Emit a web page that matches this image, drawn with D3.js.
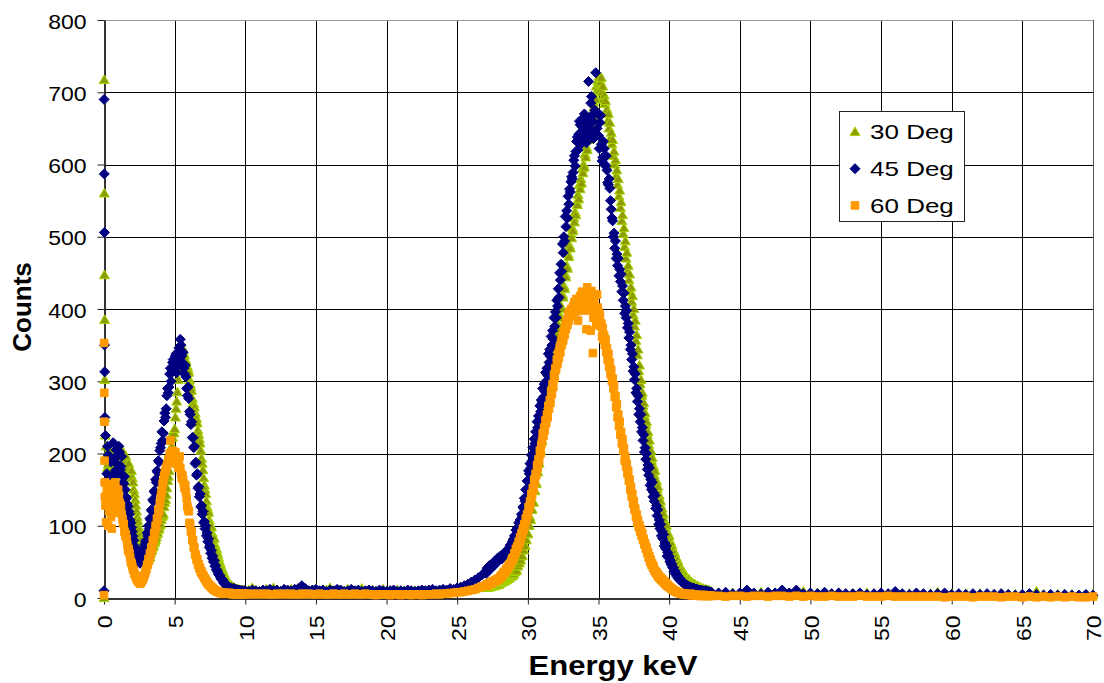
<!DOCTYPE html>
<html>
<head>
<meta charset="utf-8">
<script src="https://cdn.jsdelivr.net/npm/d3@7"></script>
<style>
  body { margin: 0; background: #fff; }
  text { font-family: "Liberation Sans", Arial, sans-serif; }
</style>
</head>
<body>
<svg id="chart" width="1104" height="683"></svg>
<script>
// series names, in the order Excel drew them
var seriesNames = ["30 Deg", "45 Deg", "60 Deg"];

var xTicks = [0, 5, 10, 15, 20, 25, 30, 35, 40, 45, 50, 55, 60, 65, 70];
var yTicks = [0, 100, 200, 300, 400, 500, 600, 700, 800];

// energy grid (keV): first channels, then four evenly spaced blocks
var spikeKeV = [0, 0.01, 0.02, 0.03, 0.04, 0.05, 0.06];
var lowStart = 0.1,  lowStep = 0.05;   // 0.10 .. 9.95
var midStart = 10,   midStep = 0.25;   // 10 .. 26.75
var peakStart = 27,  peakStep = 0.05;  // 27.00 .. 42.95
var tailStart = 43,  tailStep = 0.5;   // 43 .. 70

// ---- 30 Deg counts
var spike30 = [0, 717, 560, 447, 385, 302, 249];
var low30 = [
  225, 210, 198, 180, 185, 200, 205, 182, 178, 196, 195, 176, 182, 198, 200, 184, 188, 195,
  192, 180, 185, 200, 198, 186, 190, 202, 195, 184, 188, 196, 182, 178, 178, 186, 174, 168, 170, 176,
  166, 160, 150, 144, 136, 128, 120, 112, 106, 98, 93, 86, 80, 74, 68, 62, 58, 55, 53, 50,
  52, 50, 55, 58, 58, 56, 62, 65, 66, 70, 72, 76, 78, 80, 84, 88, 90, 94, 96, 100,
  102, 108, 112, 114, 116, 126, 132, 136, 143, 152, 162, 168, 176, 188, 198, 204, 210, 222, 230, 228,
  234, 250, 262, 272, 285, 302, 318, 330, 340, 345, 348, 336, 342, 338, 336, 330, 328, 322, 320, 316,
  312, 302, 296, 292, 287, 276, 270, 268, 264, 256, 250, 248, 242, 232, 226, 220, 214, 204, 193, 186,
  177, 166, 156, 150, 144, 134, 126, 122, 118, 108, 103, 100, 98, 90, 86, 84, 82, 74, 70, 68,
  64, 60, 56, 52, 49, 46, 43, 40, 38, 35, 33, 30, 28, 26, 24, 23, 21, 20, 19, 18,
  17, 16, 15, 15, 14, 13, 13, 12, 12, 12, 12, 11, 11, 11, 11, 10, 10, 10, 10, 10
];
var mid30 = [
  9, 11, 14, 10, 9, 10, 12, 9,
  14, 10, 9, 11, 10, 12, 9, 10,
  15, 11, 9, 10, 13, 9, 10, 11,
  14, 9, 10, 11, 9, 12, 10, 9,
  10, 13, 9, 10, 11, 9, 10, 12,
  9, 10, 8, 11, 9, 10, 8, 9,
  10, 9, 8, 10, 9, 8, 9, 10,
  9, 8, 9, 10, 9, 10, 11, 11,
  12, 13, 14, 15
];
var peak30 = [
  15, 14, 16, 15, 14, 16, 17, 15, 16, 18, 17, 16, 18, 19, 17, 18, 19, 20, 19, 18,
  20, 21, 21, 22, 22, 23, 23, 24, 24, 25, 25, 26, 27, 27, 28, 29, 30, 30, 31, 32,
  33, 36, 36, 40, 38, 44, 44, 50, 48, 56, 52, 60, 58, 68, 66, 74, 72, 82, 80, 88,
  89, 100, 100, 112, 108, 124, 122, 134, 132, 150, 148, 160, 158, 176, 174, 188, 186, 204, 204, 216,
  218, 236, 232, 250, 246, 264, 258, 274, 270, 292, 286, 300, 296, 318, 312, 326, 322, 342, 336, 350,
  348, 364, 362, 378, 372, 392, 388, 404, 400, 420, 416, 432, 428, 448, 444, 460, 456, 476, 472, 488,
  484, 504, 498, 512, 508, 526, 520, 534, 530, 548, 544, 558, 552, 572, 566, 580, 574, 594, 588, 600,
  596, 614, 610, 624, 620, 640, 634, 650, 644, 664, 658, 672, 666, 686, 680, 694, 690, 708, 702, 716,
  712, 722, 704, 714, 720, 700, 708, 690, 696, 684, 688, 670, 676, 660, 670, 650, 658, 636, 644, 628,
  634, 612, 618, 600, 606, 584, 592, 572, 580, 556, 564, 540, 548, 522, 530, 504, 512, 486, 494, 470,
  478, 452, 460, 440, 448, 424, 430, 410, 418, 392, 400, 376, 384, 356, 364, 336, 344, 314, 322, 296,
  302, 280, 284, 266, 270, 252, 256, 240, 244, 226, 230, 212, 218, 200, 204, 190, 194, 178, 182, 170,
  176, 160, 162, 150, 154, 140, 142, 130, 134, 120, 124, 112, 116, 104, 106, 96, 100, 88, 90, 82,
  86, 78, 78, 72, 73, 66, 66, 60, 62, 55, 56, 50, 52, 46, 46, 42, 43, 38, 38, 34,
  36, 33, 31, 31, 30, 28, 26, 26, 26, 24, 22, 22, 22, 20, 19, 19, 19, 17, 16, 16,
  17, 15, 14, 14, 15, 13, 12, 12, 13, 12, 11, 11, 12, 10, 10, 10, 11, 10, 9, 9
];
var tail30 = [
  8, 7, 6, 7, 6, 7, 6, 8, 6, 7,
  6, 7, 6, 9, 6, 7, 6, 6, 7, 6,
  6, 5, 7, 6, 5, 6, 7, 5, 6, 6,
  5, 6, 8, 5, 6, 5, 6, 5, 6, 5,
  5, 6, 5, 5, 4, 6, 9, 5, 4, 5,
  4, 5, 4, 4, 5
];

// ---- 45 Deg counts
var spike45 = [10, 690, 587, 506, 350, 313, 250];
var low45 = [
  225, 160, 172, 210, 198, 148, 158, 195, 188, 140, 168, 215, 192, 160, 176, 205, 196, 170,
  184, 210, 202, 178, 182, 196, 170, 160, 158, 168, 150, 140, 138, 130, 127, 120, 116, 108, 104, 98,
  92, 86, 80, 72, 69, 62, 58, 52, 50, 56, 54, 48, 50, 58, 60, 64, 68, 70, 74, 78,
  80, 90, 86, 100, 96, 110, 108, 122, 120, 136, 134, 148, 146, 164, 160, 176, 174, 190, 188, 204,
  208, 214, 230, 218, 228, 245, 256, 250, 262, 280, 290, 284, 292, 310, 318, 300, 312, 326, 330, 314,
  318, 335, 338, 312, 322, 340, 346, 330, 358, 350, 335, 325, 340, 318, 310, 322, 306, 290, 280, 292,
  276, 258, 254, 240, 244, 222, 222, 208, 210, 186, 188, 170, 172, 152, 154, 140, 144, 126, 128, 116,
  120, 104, 106, 96, 100, 86, 90, 78, 82, 70, 72, 62, 66, 55, 58, 50, 52, 44, 45, 39,
  39, 36, 33, 32, 31, 28, 26, 26, 25, 22, 20, 21, 20, 18, 16, 17, 16, 14, 13, 14,
  14, 12, 11, 13, 13, 11, 10, 12, 11, 10, 10, 11, 11, 9, 9, 10, 10, 9, 9, 10
];
var mid45 = [
  10, 9, 11, 10, 9, 11, 10, 12,
  10, 11, 9, 12, 11, 10, 12, 13,
  17, 13, 10, 11, 12, 10, 11, 9,
  11, 10, 12, 11, 9, 10, 12, 10,
  11, 9, 10, 11, 10, 9, 11, 10,
  9, 10, 11, 9, 10, 9, 11, 10,
  9, 10, 11, 10, 11, 12, 10, 11,
  12, 11, 13, 12, 14, 15, 17, 19,
  22, 25, 28, 32
];
var peak45 = [
  36, 34, 40, 42, 38, 44, 45, 40, 42, 47, 46, 44, 48, 51, 50, 48, 52, 55, 54, 52,
  55, 58, 57, 54, 58, 61, 60, 63, 62, 60, 63, 67, 66, 64, 70, 73, 74, 72, 78, 80,
  82, 86, 86, 94, 88, 97, 94, 104, 97, 108, 106, 116, 112, 126, 124, 138, 134, 150, 150, 162,
  163, 176, 172, 186, 180, 198, 190, 208, 200, 220, 214, 230, 222, 244, 236, 252, 246, 266, 258, 274,
  270, 290, 278, 296, 286, 312, 300, 318, 308, 338, 326, 344, 334, 362, 350, 370, 358, 388, 376, 396,
  388, 412, 404, 428, 416, 450, 440, 462, 452, 490, 478, 500, 494, 528, 514, 536, 526, 556, 545, 566,
  562, 576, 583, 580, 589, 606, 612, 598, 618, 632, 638, 620, 642, 660, 655, 628, 636, 652, 664, 640,
  670, 648, 655, 630, 640, 662, 715, 650, 665, 685, 694, 668, 660, 636, 645, 675, 727, 642, 650, 670,
  640, 622, 658, 668, 628, 605, 610, 632, 622, 600, 598, 612, 592, 575, 572, 580, 567, 550, 538, 526,
  522, 500, 505, 484, 494, 470, 476, 460, 470, 446, 455, 438, 448, 424, 432, 412, 422, 394, 404, 388,
  398, 374, 380, 360, 368, 344, 350, 330, 338, 314, 320, 302, 310, 284, 290, 272, 280, 254, 262, 244,
  254, 230, 236, 218, 226, 202, 208, 192, 200, 178, 184, 170, 180, 156, 164, 150, 160, 140, 146, 134,
  142, 124, 128, 114, 122, 102, 108, 96, 102, 86, 92, 82, 88, 72, 76, 68, 72, 58, 63, 56,
  58, 50, 52, 46, 47, 42, 42, 37, 38, 33, 34, 30, 31, 27, 28, 25, 26, 23, 24, 21,
  21, 20, 19, 19, 18, 17, 17, 16, 16, 15, 15, 14, 14, 14, 13, 13, 13, 12, 12, 12,
  12, 11, 11, 11, 11, 10, 10, 10, 10, 9, 9, 10, 10, 9, 9, 9, 9, 8, 8, 8
];
var tail45 = [
  8, 7, 8, 6, 7, 11, 7, 6, 8, 7,
  11, 7, 11, 6, 7, 6, 8, 6, 7, 6,
  6, 7, 5, 6, 7, 6, 9, 6, 5, 7,
  6, 5, 6, 7, 5, 6, 5, 6, 5, 6,
  5, 6, 5, 4, 5, 6, 5, 4, 5, 4,
  5, 4, 4, 5, 4
];

// ---- 60 Deg counts
var spike60 = [4, 353, 284, 244, 190, 160, 140];
var low60 = [
  128, 105, 150, 138, 100, 120, 140, 158, 112, 96, 152, 130, 126, 145, 160, 150, 140, 118,
  150, 142, 132, 120, 128, 116, 110, 104, 102, 92, 86, 88, 82, 74, 66, 68, 62, 56, 50, 48,
  44, 40, 38, 34, 32, 30, 27, 25, 24, 22, 22, 20, 21, 23, 24, 26, 28, 31, 34, 37,
  40, 46, 46, 54, 52, 62, 60, 70, 68, 80, 78, 90, 88, 100, 98, 110, 108, 122, 120, 132,
  138, 144, 150, 158, 162, 168, 172, 176, 180, 183, 186, 192, 190, 200, 218, 196, 195, 204, 200, 192,
  198, 202, 186, 194, 188, 180, 190, 196, 180, 172, 166, 170, 164, 158, 152, 156, 147, 138, 127, 122,
  120, 104, 102, 92, 92, 80, 80, 70, 70, 60, 60, 53, 54, 46, 47, 41, 42, 36, 37, 33,
  32, 30, 28, 27, 25, 23, 22, 20, 19, 18, 17, 16, 15, 14, 13, 12, 11, 11, 10, 10,
  9, 9, 8, 8, 8, 7, 7, 7, 7, 6, 6, 7, 7, 6, 6, 6, 6, 7, 7, 6,
  6, 6, 5, 6, 6, 6, 6, 5, 5, 6, 6, 5, 5, 6, 5, 5, 6, 5, 6, 6
];
var mid60 = [
  6, 5, 6, 5, 6, 5, 6, 5,
  5, 6, 5, 6, 5, 6, 5, 5,
  6, 5, 6, 5, 5, 6, 5, 5,
  5, 6, 5, 5, 6, 5, 5, 6,
  5, 5, 6, 5, 5, 4, 5, 5,
  5, 4, 5, 5, 4, 5, 5, 4,
  5, 5, 4, 5, 5, 5, 6, 5,
  6, 6, 7, 7, 8, 8, 9, 10,
  11, 12, 14, 16
];
var peak60 = [
  17, 18, 19, 18, 18, 20, 21, 20, 20, 22, 23, 22, 22, 24, 25, 24, 24, 26, 27, 26,
  27, 29, 31, 30, 31, 34, 36, 35, 36, 39, 41, 40, 42, 45, 47, 46, 49, 52, 55, 55,
  57, 62, 61, 68, 66, 72, 70, 78, 76, 84, 82, 90, 88, 96, 94, 102, 100, 110, 108, 116,
  115, 126, 124, 134, 132, 144, 142, 152, 150, 164, 160, 172, 170, 184, 180, 192, 190, 204, 200, 212,
  217, 228, 224, 236, 232, 246, 242, 254, 250, 266, 262, 274, 270, 286, 282, 296, 292, 308, 304, 318,
  316, 330, 324, 338, 332, 346, 340, 354, 350, 362, 356, 370, 364, 378, 372, 384, 378, 392, 384, 396,
  390, 400, 396, 392, 404, 398, 410, 396, 406, 414, 402, 384, 398, 412, 418, 404, 420, 424, 408, 398,
  422, 412, 410, 372, 430, 418, 415, 405, 398, 370, 425, 410, 339, 388, 412, 420, 400, 378, 420, 402,
  396, 384, 392, 376, 380, 362, 374, 358, 364, 350, 358, 340, 346, 330, 338, 320, 326, 310, 316, 300,
  304, 290, 294, 278, 280, 264, 268, 250, 254, 238, 244, 226, 230, 214, 220, 204, 208, 190, 196, 182,
  186, 172, 176, 162, 164, 150, 154, 140, 144, 130, 134, 122, 124, 112, 116, 104, 108, 98, 101, 92,
  95, 86, 90, 80, 82, 74, 76, 68, 70, 62, 64, 56, 58, 50, 53, 46, 48, 42, 44, 38,
  38, 35, 36, 32, 33, 29, 30, 27, 28, 25, 26, 23, 24, 21, 22, 19, 20, 17, 18, 16,
  15, 15, 14, 13, 12, 12, 11, 10, 10, 9, 9, 8, 8, 8, 7, 7, 7, 6, 6, 6,
  5, 6, 6, 5, 5, 5, 5, 5, 4, 5, 6, 5, 4, 4, 5, 4, 4, 4, 4, 4,
  4, 4, 3, 3, 3, 4, 4, 3, 3, 4, 4, 3, 3, 3, 3, 3, 3, 3, 3, 3
];
var tail60 = [
  3, 3, 2, 3, 3, 2, 3, 3, 2, 3,
  3, 2, 3, 2, 3, 2, 2, 3, 2, 2,
  2, 3, 2, 2, 2, 3, 2, 2, 2, 2,
  2, 2, 2, 1, 2, 2, 2, 1, 2, 2,
  2, 1, 2, 2, 1, 2, 1, 2, 1, 2,
  1, 2, 1, 1, 2
];

function block(counts, start, step) {
  return counts.map(function(c, i) { return { e: +(start + i * step).toFixed(3), c: c }; });
}
function buildSeries(spike, low, mid, peak, tail) {
  var pts = spike.map(function(c, i) { return { e: spikeKeV[i], c: c }; });
  return pts.concat(block(low, lowStart, lowStep), block(mid, midStart, midStep),
                    block(peak, peakStart, peakStep), block(tail, tailStart, tailStep));
}

var seriesData = [
  buildSeries(spike30, low30, mid30, peak30, tail30),
  buildSeries(spike45, low45, mid45, peak45, tail45),
  buildSeries(spike60, low60, mid60, peak60, tail60)
];

// ---- chart
var svg = d3.select("#chart");
var x = d3.scaleLinear().domain([0, 70]).range([104, 1093]);
var y = d3.scaleLinear().domain([0, 800]).range([598, 20]);
function crisp(v) { return Math.round(v) + 0.5; }

var markers = [
  { d: "M0,-5L5,3.6L-5,3.6Z", fill: "#8f9900", stroke: "#a6d400" },
  { d: "M0,-5L5,0L0,5L-5,0Z", fill: "#000080", stroke: "#000080" },
  { d: "M-3.8,-3.8H3.8V3.8H-3.8Z", fill: "#ff9900", stroke: "#ff9900" }
];

// gridlines
var grid = svg.append("g");
grid.selectAll(".gx").data(xTicks.slice(1)).join("line")
  .attr("x1", function(d) { return crisp(x(d)); })
  .attr("x2", function(d) { return crisp(x(d)); })
  .attr("y1", y(800)).attr("y2", y(0))
  .attr("stroke", function(d) { return d === 70 ? "#555" : "#000"; });
grid.selectAll(".gy").data(yTicks.slice(1)).join("line")
  .attr("x1", x(0)).attr("x2", x(70))
  .attr("y1", function(d) { return crisp(y(d)); })
  .attr("y2", function(d) { return crisp(y(d)); })
  .attr("stroke", function(d) { return d === 800 ? "#999" : "#000"; });

// axes
var yAxis = svg.append("g").attr("transform", "translate(104.5,0)")
  .call(d3.axisLeft(y).tickValues(yTicks).tickSize(7).tickSizeOuter(0).tickPadding(11));
var xAxis = svg.append("g").attr("transform", "translate(0,598.5)")
  .call(d3.axisBottom(x).tickValues(xTicks).tickSize(6).tickSizeOuter(0).tickFormat(d3.format("d")));

[yAxis, xAxis].forEach(function(a) {
  a.attr("font-family", null);
  a.select(".domain").attr("stroke", "#333").attr("stroke-width", 2);
  a.selectAll(".tick line").attr("stroke", "#222");
  a.selectAll("text").attr("font-size", 19.5).attr("fill", "#000");
});
yAxis.selectAll("text").attr("x", -18 / 1.18).attr("dy", "0.42em")
  .attr("transform", "scale(1.18,1)");
xAxis.selectAll("text").attr("text-anchor", "end").attr("x", -17 / 1.18).attr("y", 0).attr("dy", "0.4em")
  .attr("transform", "rotate(-90) scale(1.18,1)");

// points
seriesData.forEach(function(pts, i) {
  svg.append("g").selectAll("path").data(pts).join("path")
    .attr("d", markers[i].d)
    .attr("fill", markers[i].fill)
    .attr("stroke", markers[i].stroke)
    .attr("stroke-width", 1)
    .attr("transform", function(p) { return "translate(" + x(p.e) + "," + y(p.c) + ")"; });
});

// axis titles
svg.append("text").attr("transform", "translate(31,307) rotate(-90)")
  .attr("text-anchor", "middle").attr("font-weight", "bold").attr("font-size", 26)
  .text("Counts");
svg.append("text").attr("transform", "translate(613,675) scale(1.15,1)")
  .attr("text-anchor", "middle").attr("font-weight", "bold").attr("font-size", 27)
  .text("Energy keV");

// legend
var legend = svg.append("g");
legend.append("rect").attr("x", 839.5).attr("y", 111.5).attr("width", 125).attr("height", 110)
  .attr("fill", "#fff").attr("stroke", "#222");
seriesNames.forEach(function(name, i) {
  var cy = 132 + i * 36.7;
  legend.append("path").attr("d", markers[i].d)
    .attr("fill", markers[i].fill).attr("stroke", markers[i].stroke)
    .attr("transform", "translate(855," + cy + ")");
  legend.append("text").attr("transform", "translate(870," + (cy + 7.3) + ") scale(1.3,1)")
    .attr("font-size", 20).text(name);
});
</script>
</body>
</html>
